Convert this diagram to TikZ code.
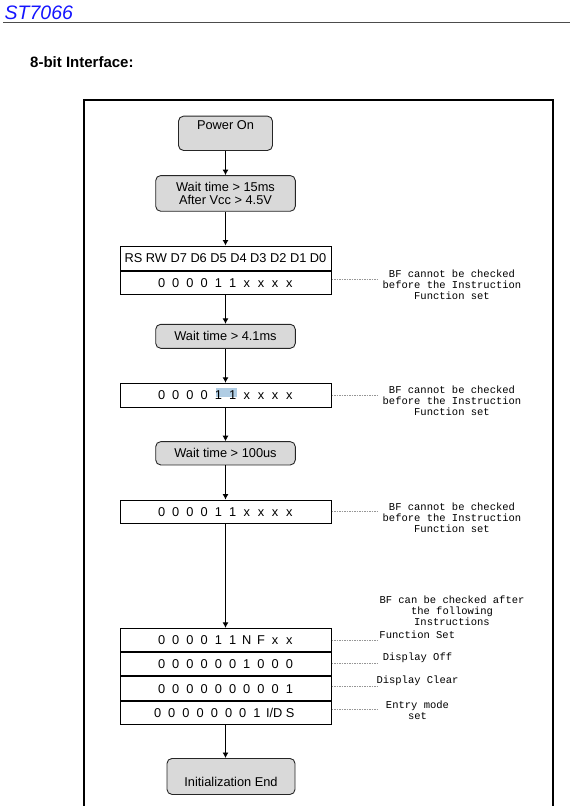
\documentclass[tikz,border=0pt]{standalone}
\usepackage{fontspec}
\setmainfont{Liberation Sans}
\newfontfamily\notefont{Liberation Mono}
\usetikzlibrary{arrows.meta}
\definecolor{boxgray}{RGB}{217,217,217}
\definecolor{hlblue}{RGB}{176,205,228}
\definecolor{hdrblue}{RGB}{20,20,255}
\definecolor{dashgray}{RGB}{150,150,150}
\newcommand{\cc}[1]{\makebox[14.2pt]{#1}}
\begin{document}
\begin{tikzpicture}[x=1pt,y=-1pt,
  font=\fontsize{12.8}{13.6}\selectfont,
  rbox/.style={draw=black!85, line width=0.9pt, fill=boxgray, rounded corners=5pt,
    minimum width=139.6pt, inner sep=2pt, align=center},
  cell/.style={draw=black, line width=1pt, minimum width=211pt, minimum height=23.3pt, inner sep=0pt},
  arr/.style={-{Latex[length=5.5pt,width=6pt]}, line width=0.9pt},
  leader/.style={draw=dashgray, line width=0.5pt, dash pattern=on 1.5pt off 1pt},
  note/.style={font=\notefont\fontsize{10.5}{11}\selectfont, align=center, inner sep=0pt}
]
\useasboundingbox (0,0) rectangle (570,806);

% page header
\node[anchor=base west, inner sep=0pt, text=hdrblue, font=\fontsize{19.5}{22}\selectfont\itshape] (title) at (4.5,19.5) {ST7066};
\draw[line width=1.5pt, draw=black!70] (3,22.7) -- (570,22.7);
\node[anchor=base west, inner sep=0pt, font=\bfseries\fontsize{15}{18}\selectfont] (sub) at (30,67.7) {8-bit Interface:};

% frame
\draw[line width=1.2pt] (84,808) -- (84,100) -- (553,100) -- (553,808);

% flow boxes
\node[rbox, minimum width=94pt, text height=10.9pt, text depth=19.4pt, anchor=north] (pon) at (225.5,115.7) {Power On};
\node[rbox, minimum height=35.7pt] (w1) at (225.5,193.4) {Wait time > 15ms\\After Vcc > 4.5V};
\node[cell, minimum height=24pt] (t1h) at (225.5,258) {RS RW D7 D6 D5 D4 D3 D2 D1 D0};
\node[cell, anchor=north] (t1d) at (t1h.south) {\cc0\cc0\cc0\cc0\cc1\cc1\cc x\cc x\cc x\cc x};
\node[rbox, minimum height=24pt] (w2) at (225.5,336.3) {Wait time > 4.1ms};
\fill[hlblue] (215.5,387.7) rectangle (236.7,396.9);
\node[cell, minimum height=24pt] (b2) at (225.5,395.3) {\cc0\cc0\cc0\cc0\cc1\cc1\cc x\cc x\cc x\cc x};
\node[rbox, minimum height=23.3pt] (w3) at (225.5,453.3) {Wait time > 100us};
\node[cell] (b3) at (225.5,511.7) {\cc0\cc0\cc0\cc0\cc1\cc1\cc x\cc x\cc x\cc x};
\node[cell] (r1) at (225.5,640) {\cc0\cc0\cc0\cc0\cc1\cc1\cc N\cc F\cc x\cc x};
\node[cell, anchor=north] (r2) at (r1.south) {\cc0\cc0\cc0\cc0\cc0\cc0\cc1\cc0\cc0\cc0};
\node[cell, anchor=north] (r3) at (r2.south) {\cc0\cc0\cc0\cc0\cc0\cc0\cc0\cc0\cc0\cc1};
\node[cell, anchor=north] (r4) at (r3.south) {\hspace*{-6pt}\cc0\cc0\cc0\cc0\cc0\cc0\cc0\cc1\hspace{2pt}I/D S};
\node[rbox, minimum width=128pt, text height=26.3pt, text depth=5.7pt, anchor=north] (iend) at (231,758) {Initialization End};

% arrows
\draw[arr] (pon.south) -- (pon.south |- w1.north);
\draw[arr] (w1.south) -- (w1.south |- t1h.north);
\draw[arr] (t1d.south) -- (t1d.south |- w2.north);
\draw[arr] (w2.south) -- (w2.south |- b2.north);
\draw[arr] (b2.south) -- (b2.south |- w3.north);
\draw[arr] (w3.south) -- (w3.south |- b3.north);
\draw[arr] (b3.south) -- (b3.south |- r1.north);
\draw[arr] (r4.south) -- (r4.south |- iend.north);

% notes
\node[note] (n1) at (452,284.7) {BF cannot be checked\\before the Instruction\\Function set};
\node[note] (n2) at (452,401) {BF cannot be checked\\before the Instruction\\Function set};
\node[note] (n3) at (452,517.7) {BF cannot be checked\\before the Instruction\\Function set};
\node[note] (n4) at (452,611) {BF can be checked after\\the following\\Instructions};
\node[note] (fs) at (417.3,635) {Function Set};
\node[note] (doff) at (417.5,658) {Display Off};
\node[note] (dclr) at (417.5,681) {Display Clear};
\node[note] (emode) at (417.5,710.5) {Entry mode\\set};

% leaders
\coordinate (e1) at (377,279.5);
\coordinate (e2) at (377,395.3);
\coordinate (e3) at (377,511.3);
\coordinate (e4) at (377,640);
\coordinate (e5) at (377,663);
\coordinate (e6) at (377,686.3);
\coordinate (e7) at (377,709.5);
\draw[leader] (t1d.east |- e1) -- (e1);
\draw[leader] (b2.east |- e2) -- (e2);
\draw[leader] (b3.east |- e3) -- (e3);
\draw[leader] (r1.east |- e4) -- (e4);
\draw[leader] (r2.east |- e5) -- (e5);
\draw[leader] (r3.east |- e6) -- (e6);
\draw[leader] (r4.east |- e7) -- (e7);
\end{tikzpicture}
\end{document}
